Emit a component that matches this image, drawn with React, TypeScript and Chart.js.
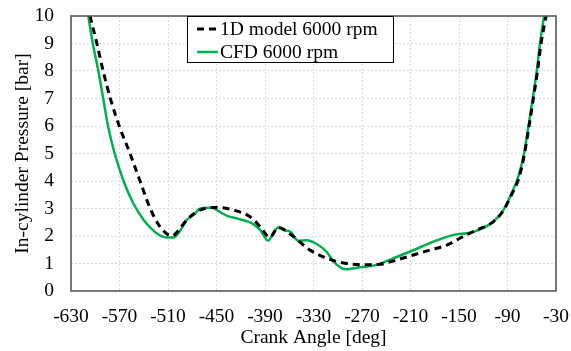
import React, { useEffect, useRef } from "react";
import { Chart, registerables } from "chart.js";

Chart.register(...registerables);

const modelAngle = [-606.5, -598, -590, -581, -570, -557, -544.6, -532, -520, -505, -497, -487, -470, -450, -430, -408.5, -396, -384, -373.5, -355, -336, -310, -289, -268, -248, -227, -206.5, -186, -165, -145, -128, -107.5, -95, -85, -76, -68.9, -63.5, -58, -53, -48.5, -42.3];
const modelPressure = [10, 9.0, 7.97, 6.97, 5.97, 5.0, 4.0, 3.0, 2.34, 2.0, 2.2, 2.58, 2.95, 3.04, 2.95, 2.7, 2.34, 1.95, 2.31, 1.98, 1.52, 1.15, 1.0, 0.95, 0.97, 1.13, 1.31, 1.49, 1.67, 1.98, 2.22, 2.52, 2.93, 3.5, 4.1, 5.0, 5.97, 7.0, 7.97, 9.0, 10];

const cfdAngle = [-608.6, -603, -596, -590, -584, -576, -565, -553, -540, -524, -512, -503, -497, -487, -477, -472, -464, -456, -446, -436, -425, -406, -396, -386, -379, -373.5, -366, -359, -349, -338, -326, -314, -305, -291, -272, -252, -231, -206, -182, -157, -136, -124, -107.5, -95, -85, -76.6, -69.5, -64.2, -58.8, -53.9, -49.8, -44.8];
const cfdPressure = [10, 9.0, 7.97, 6.97, 5.97, 5.0, 4.0, 3.19, 2.58, 2.1, 1.95, 1.95, 2.1, 2.58, 2.8, 2.97, 3.02, 3.03, 2.88, 2.72, 2.64, 2.46, 2.22, 1.83, 2.15, 2.31, 2.2, 2.16, 1.83, 1.85, 1.71, 1.43, 1.07, 0.79, 0.86, 0.95, 1.19, 1.49, 1.79, 2.04, 2.12, 2.24, 2.52, 2.95, 3.55, 4.16, 5.0, 5.97, 7.0, 7.97, 9.0, 10];

const seriesLabels = ["1D model 6000 rpm", "CFD 6000 rpm"];
const xTitle = "Crank Angle [deg]";
const yTitle = "In-cylinder Pressure [bar]";

const FONT = "'Liberation Serif', 'Times New Roman', serif";

const framePlugin = {
  id: "frame",
  afterDatasetsDraw(chart: any) {
    const { ctx, chartArea } = chart;
    ctx.save();
    ctx.strokeStyle = "#595959";
    ctx.lineWidth = 1.6;
    ctx.strokeRect(chartArea.left, chartArea.top, chartArea.right - chartArea.left, chartArea.bottom - chartArea.top);
    ctx.restore();
  },
};

const legendPlugin = {
  id: "boxLegend",
  afterDraw(chart: any) {
    const { ctx, chartArea } = chart;
    const x0 = chartArea.left + 116;
    const y0 = chartArea.top;
    const w = 206;
    const h = 46;
    ctx.save();
    ctx.fillStyle = "#ffffff";
    ctx.fillRect(x0, y0, w, h);
    ctx.strokeStyle = "#000000";
    ctx.lineWidth = 1;
    ctx.strokeRect(x0 + 0.5, y0 + 0.5, w, h);
    const rows = [13, 36];
    chart.data.datasets.forEach((ds: any, i: number) => {
      const y = y0 + rows[i];
      ctx.beginPath();
      ctx.strokeStyle = ds.borderColor;
      ctx.lineWidth = ds.borderWidth;
      ctx.setLineDash(ds.borderDash || []);
      ctx.moveTo(x0 + 10, y);
      ctx.lineTo(x0 + 31, y);
      ctx.stroke();
      ctx.setLineDash([]);
      ctx.fillStyle = "#000000";
      ctx.font = `19.5px ${FONT}`;
      ctx.textBaseline = "middle";
      ctx.textAlign = "left";
      ctx.fillText(ds.label, x0 + 33, y + 1);
    });
    ctx.restore();
  },
};

export default function App() {
  const ref = useRef<HTMLCanvasElement | null>(null);

  useEffect(() => {
    document.body.style.margin = "0";
    if (!ref.current) return;
    const chart = new Chart(ref.current, {
      type: "scatter",
      data: {
        datasets: [
          {
            label: seriesLabels[0],
            data: modelAngle.map((a, i) => ({ x: a, y: modelPressure[i] })),
            showLine: true,
            borderColor: "#000000",
            borderWidth: 3,
            borderDash: [7, 5],
            pointRadius: 0,
            tension: 0.4,
            cubicInterpolationMode: "monotone",
          },
          {
            label: seriesLabels[1],
            data: cfdAngle.map((a, i) => ({ x: a, y: cfdPressure[i] })),
            showLine: true,
            borderColor: "#00b050",
            borderWidth: 2.5,
            pointRadius: 0,
            tension: 0.4,
            cubicInterpolationMode: "monotone",
          },
        ],
      },
      options: {
        responsive: false,
        animation: false,
        layout: { padding: { left: 0, top: 16, right: 15, bottom: 0 } },
        plugins: { legend: { display: false }, tooltip: { enabled: false } },
        scales: {
          x: {
            type: "linear",
            min: -630,
            max: -30,
            afterFit: (s: any) => { s.height = 60; s.paddingLeft = 0; s.paddingRight = 0; },
            ticks: { stepSize: 60, autoSkip: false, maxRotation: 0, color: "#000", padding: 14, font: { family: FONT, size: 19.5 } },
            grid: { color: "#d9d9d9", drawTicks: false },
            border: { display: false, dash: [2, 2] },
            title: { display: true, text: xTitle, color: "#000", font: { family: FONT, size: 19.5 }, padding: { top: 0, bottom: 1 } },
          },
          y: {
            min: 0,
            max: 10,
            afterFit: (s: any) => { s.width = 71; s.paddingTop = 0; s.paddingBottom = 0; },
            ticks: { stepSize: 1, autoSkip: false, color: "#000", padding: 17, font: { family: FONT, size: 19.5 } },
            grid: { color: "#d9d9d9", drawTicks: false },
            border: { display: false, dash: [2, 2] },
            title: { display: true, text: yTitle, color: "#000", font: { family: FONT, size: 19.5 }, padding: { top: 11, bottom: 0 } },
          },
        },
      },
      plugins: [framePlugin, legendPlugin],
    });
    return () => chart.destroy();
  }, []);

  return (
    <div style={{ position: "fixed", left: 0, top: 0, width: 571, height: 351 }}>
      <canvas ref={ref} width={571} height={351} />
    </div>
  );
}
